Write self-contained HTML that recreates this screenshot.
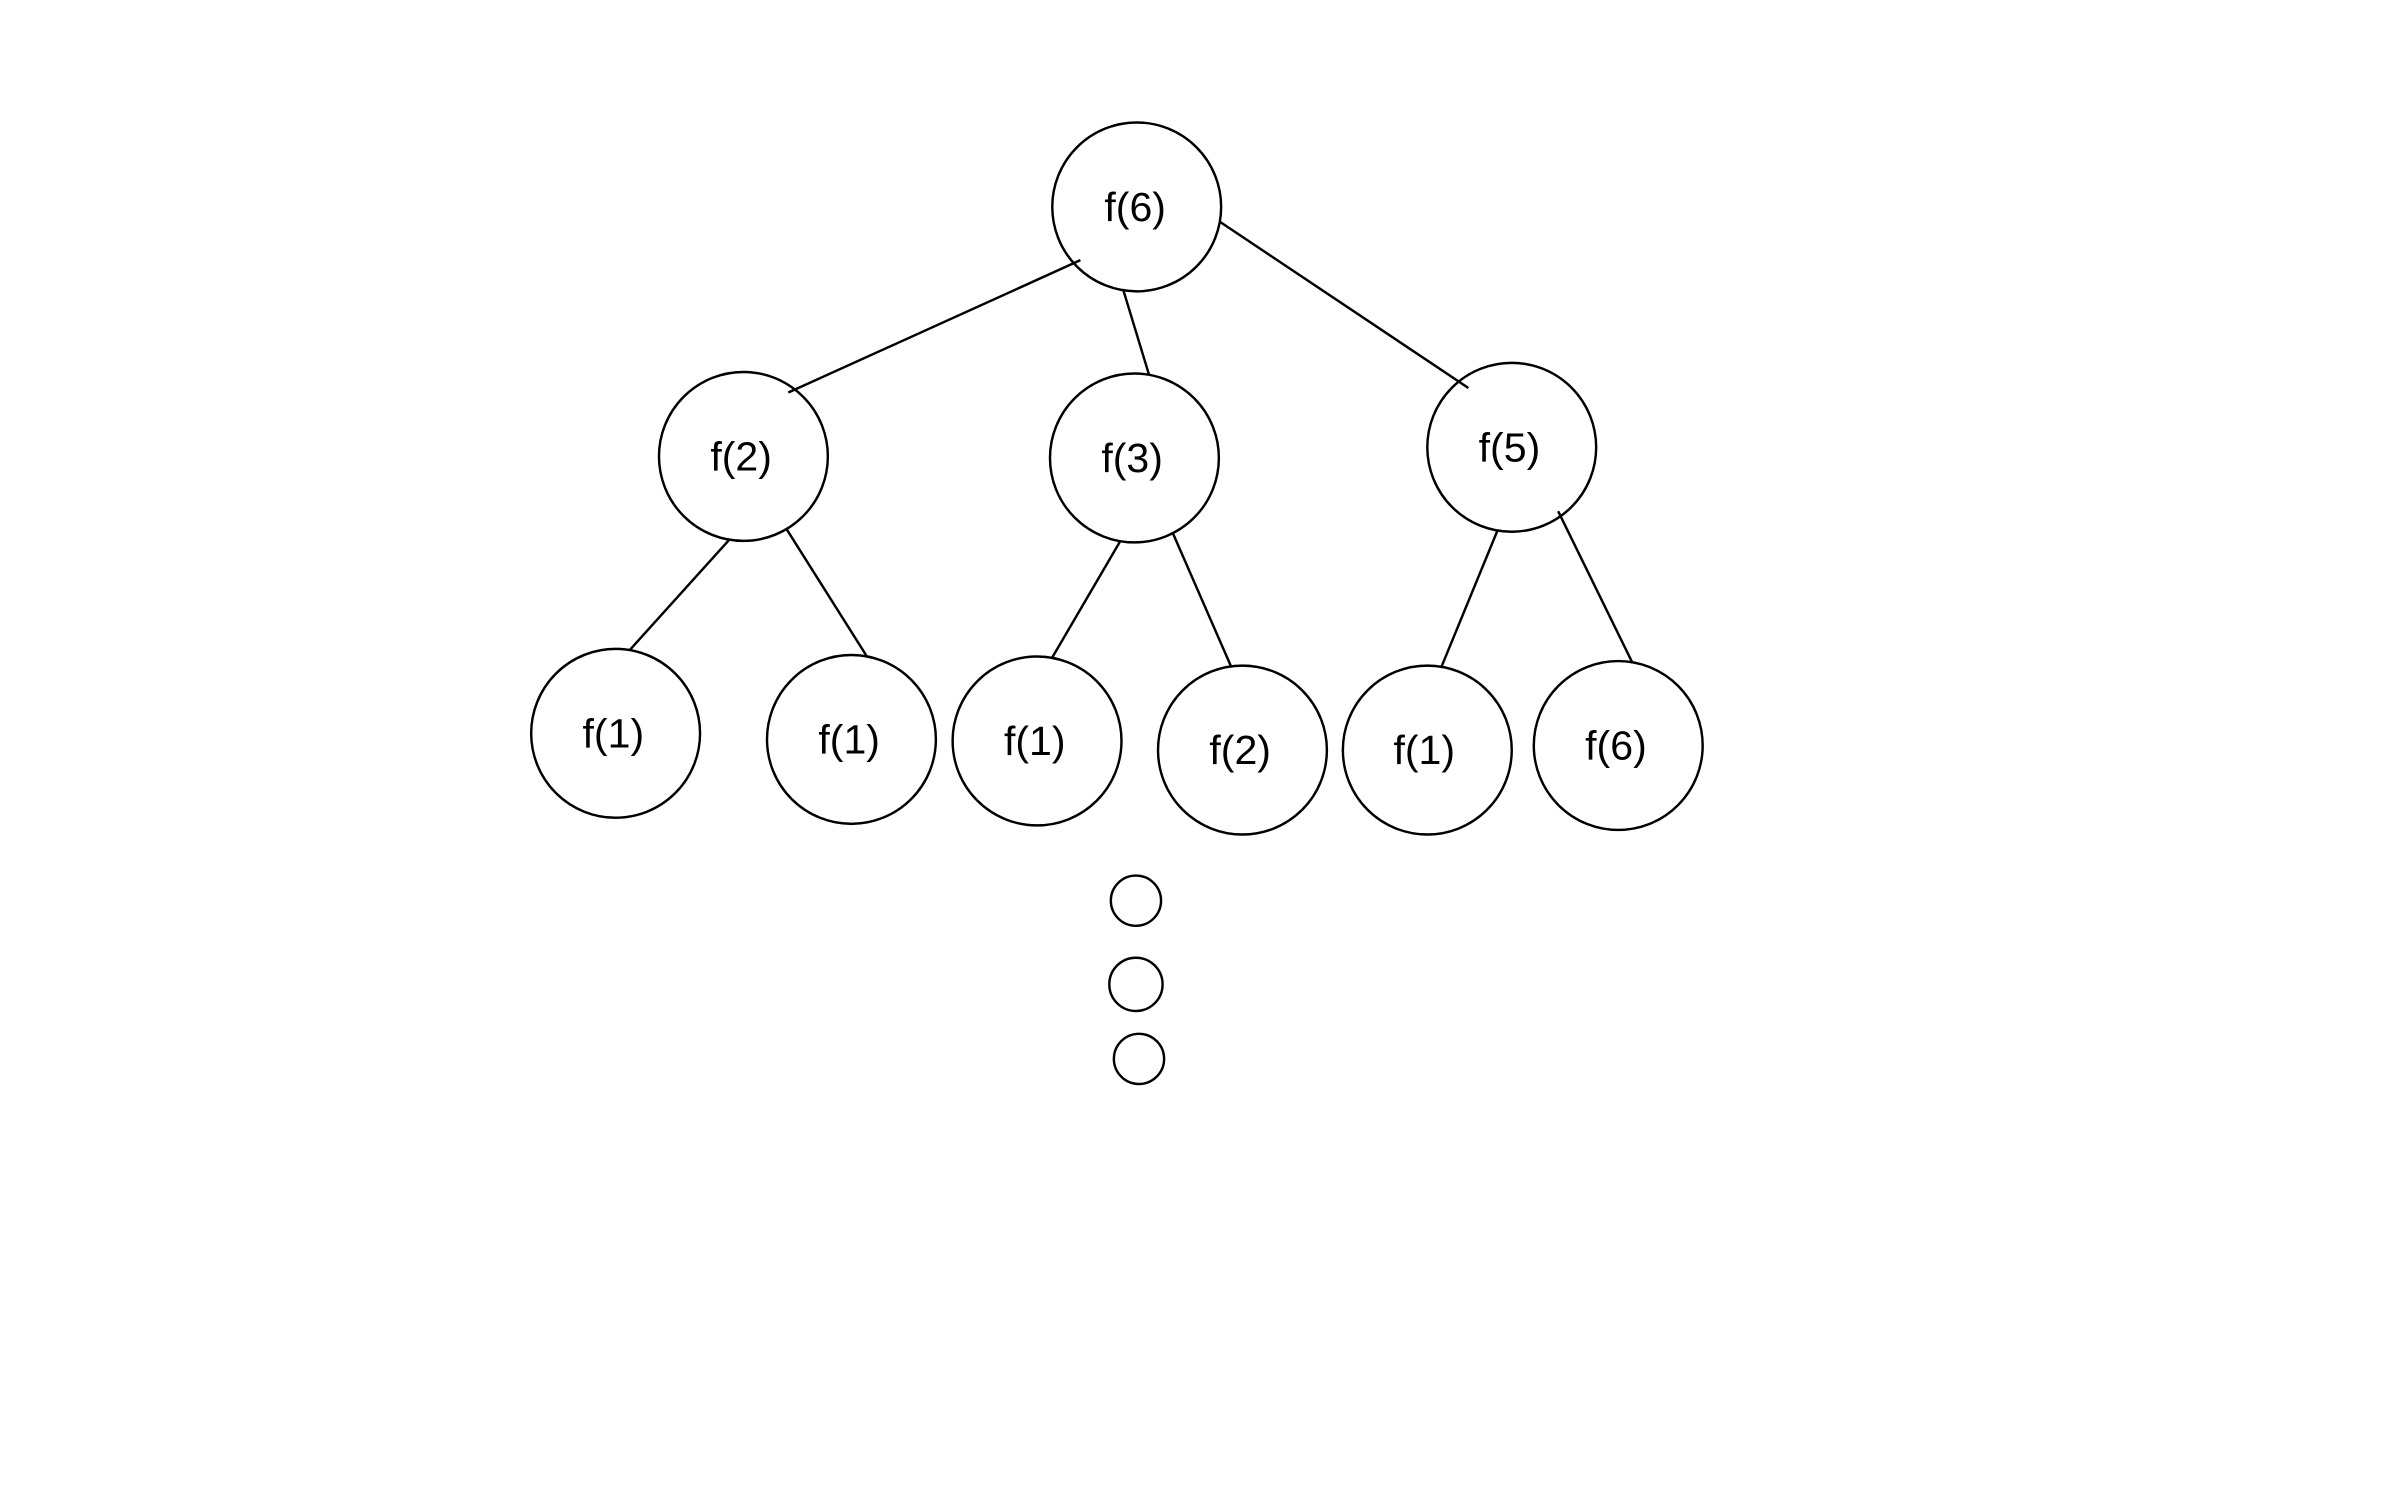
<!DOCTYPE html>
<html><head><meta charset="utf-8"><style>
html,body{margin:0;padding:0;background:#fff;}
svg{display:block;}
text{font-family:"Liberation Sans",sans-serif;font-size:27px;fill:#000;text-anchor:middle;dominant-baseline:central;}
</style></head><body>
<svg width="2386" height="1491" viewBox="0 0 1568 980" xmlns="http://www.w3.org/2000/svg">
<g stroke="#000" stroke-width="1.6" fill="none">
<g fill="#fff">
<circle cx="747" cy="136" r="55.5"/>
<circle cx="488.5" cy="300" r="55.5"/>
<circle cx="745.5" cy="301" r="55.5"/>
<circle cx="993.5" cy="294" r="55.5"/>
<circle cx="404.5" cy="482" r="55.5"/>
<circle cx="559.5" cy="486" r="55.5"/>
<circle cx="681.5" cy="487" r="55.5"/>
<circle cx="816.5" cy="493" r="55.5"/>
<circle cx="938" cy="493" r="55.5"/>
<circle cx="1063.5" cy="490" r="55.5"/>
<circle cx="746.5" cy="592" r="16.5"/>
<circle cx="746.5" cy="647" r="17.5"/>
<circle cx="748.5" cy="696" r="16.5"/>
</g>
<line x1="710" y1="171" x2="518" y2="258"/>
<line x1="738" y1="190" x2="755" y2="246"/>
<line x1="802" y1="146" x2="965" y2="255"/>
<line x1="479" y1="355" x2="414" y2="427"/>
<line x1="517" y1="348" x2="570" y2="432"/>
<line x1="736" y1="356" x2="691" y2="433"/>
<line x1="771" y1="351" x2="809" y2="438"/>
<line x1="984" y1="349" x2="947" y2="439"/>
<line x1="1024" y1="336" x2="1073" y2="436"/>
</g>
<text x="746" y="136">f(6)</text>
<text x="487" y="300">f(2)</text>
<text x="744" y="301">f(3)</text>
<text x="992" y="294">f(5)</text>
<text x="403" y="482">f(1)</text>
<text x="558" y="486">f(1)</text>
<text x="680" y="487">f(1)</text>
<text x="815" y="493">f(2)</text>
<text x="936" y="493">f(1)</text>
<text x="1062" y="490">f(6)</text>
</svg>
</body></html>
